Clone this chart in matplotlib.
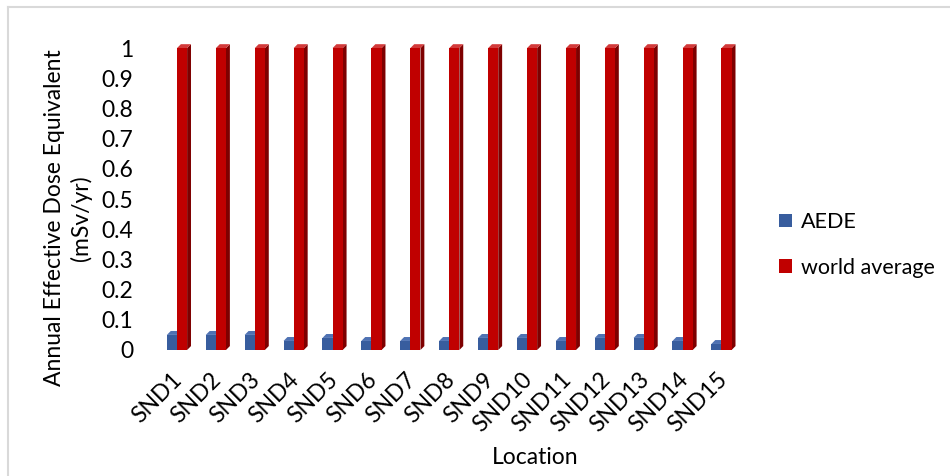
import matplotlib
matplotlib.use("Agg")
import matplotlib.pyplot as plt
from matplotlib.patches import Rectangle, Polygon
from matplotlib.lines import Line2D
import numpy as np

plt.rcParams['font.family'] = ['Lato', 'DejaVu Sans']

locations = ["SND1", "SND2", "SND3", "SND4", "SND5", "SND6", "SND7", "SND8",
             "SND9", "SND10", "SND11", "SND12", "SND13", "SND14", "SND15"]
aede = [0.05, 0.05, 0.05, 0.03, 0.04, 0.03, 0.03, 0.03,
        0.04, 0.04, 0.03, 0.04, 0.04, 0.03, 0.02]
world_average = [1, 1, 1, 1, 1, 1, 1, 1, 1, 1, 1, 1, 1, 1, 1]
y_ticks = [0, 0.1, 0.2, 0.3, 0.4, 0.5, 0.6, 0.7, 0.8, 0.9, 1]
y_tick_labels = ["0", "0.1", "0.2", "0.3", "0.4", "0.5", "0.6", "0.7", "0.8", "0.9", "1"]

BLUE = "#385D9E"
BLUE_TOP = "#4F72B3"
RED = "#C00000"
RED_SIDE = "#7E0000"
RED_TOP = "#D23A3A"

fig = plt.figure(figsize=(9.5, 4.76), dpi=100)
ax = fig.add_axes([150 / 950, 1 - 350 / 476, 610 / 950, 320 / 476])

bar_w = 0.26
dx, dy = 0.1, 0.013


def bar3d(ax, x0, v, front, side, top, z):
    ax.add_patch(Polygon([(x0 + bar_w, 0), (x0 + bar_w + dx, dy),
                          (x0 + bar_w + dx, v + dy), (x0 + bar_w, v)],
                         closed=True, facecolor=side, edgecolor='none', zorder=z))
    ax.add_patch(Polygon([(x0, v), (x0 + dx, v + dy),
                          (x0 + bar_w + dx, v + dy), (x0 + bar_w, v)],
                         closed=True, facecolor=top, edgecolor='none', zorder=z))
    ax.add_patch(Rectangle((x0, 0), bar_w, v, facecolor=front,
                           edgecolor='none', zorder=z + 0.1))


x = np.arange(len(locations))
for i in x:
    bar3d(ax, i - bar_w, aede[i], BLUE, "#243F70", BLUE_TOP, 2)
    bar3d(ax, i, world_average[i], RED, RED_SIDE, RED_TOP, 3)

ax.set_xlim(-0.694, 14.99)
ax.set_ylim(0, 1.06)
for s in ax.spines.values():
    s.set_visible(False)

ax.set_yticks(y_ticks)
ax.set_yticklabels(y_tick_labels, fontsize=16.5)
ax.tick_params(axis='y', length=0, pad=12)

ax.set_xticks(x + 0.05)
ax.set_xticklabels(locations, fontsize=16.5, rotation=45, ha='right',
                   va='center', rotation_mode='anchor')
ax.tick_params(axis='x', length=0, pad=19)

fig.text(68 / 950, 1 - 218 / 476, "Annual Effective Dose Equivalent\n(mSv/yr)",
         rotation=90, ha='center', va='center', fontsize=16.5, linespacing=1.25)
fig.text(535 / 950, 1 - 458 / 476, "Location", ha='center', va='center', fontsize=16.5)

handles = [Rectangle((0, 0), 1, 1, facecolor=BLUE),
           Rectangle((0, 0), 1, 1, facecolor=RED)]
fig.legend(handles, ["AEDE", "world average"], loc='center left',
           bbox_to_anchor=(760 / 950, 1 - 245 / 476), frameon=False,
           fontsize=15.5, handlelength=0.6, handleheight=0.6, handletextpad=0.4,
           labelspacing=1.2)

# chart frame
fig.add_artist(Line2D([8 / 950, 1], [1 - 7 / 476, 1 - 7 / 476],
                      transform=fig.transFigure, color="#D9D9D9", lw=1.5))
fig.add_artist(Line2D([8 / 950, 8 / 950], [0, 1 - 7 / 476],
                      transform=fig.transFigure, color="#D9D9D9", lw=1.5))

fig.savefig("out.png", dpi=100)
